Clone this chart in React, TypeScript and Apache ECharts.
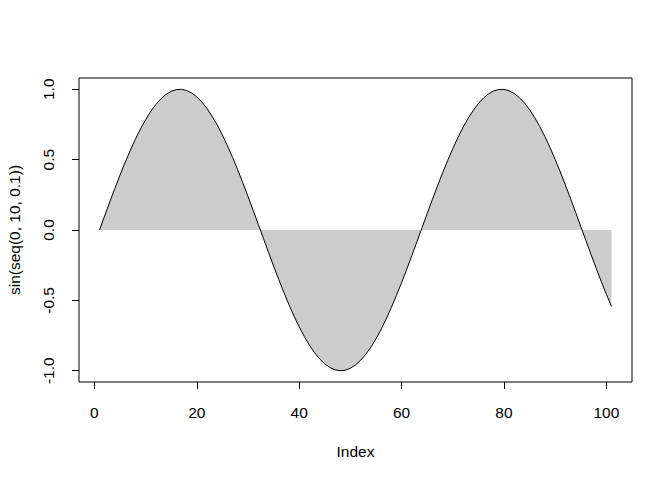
import React, { useEffect, useRef } from "react";
import * as echarts from "echarts";

// sin(seq(0, 10, 0.1)) read at each index 1..101
const values: number[] = [
  0.0, 0.0998, 0.1987, 0.2955, 0.3894, 0.4794, 0.5646, 0.6442, 0.7174, 0.7833,
  0.8415, 0.8912, 0.932, 0.9636, 0.9854, 0.9975, 0.9996, 0.9917, 0.9738, 0.9463,
  0.9093, 0.8632, 0.8085, 0.7457, 0.6755, 0.5985, 0.5155, 0.4274, 0.335, 0.2392,
  0.1411, 0.0416, -0.0584, -0.1577, -0.2555, -0.3508, -0.4425, -0.5298, -0.6119, -0.6878,
  -0.7568, -0.8183, -0.8716, -0.9162, -0.9516, -0.9775, -0.9937, -0.9999, -0.9962, -0.9825,
  -0.9589, -0.9258, -0.8835, -0.8323, -0.7728, -0.7055, -0.6313, -0.5507, -0.4646, -0.3739,
  -0.2794, -0.1822, -0.0831, 0.0168, 0.1165, 0.2151, 0.3115, 0.4048, 0.4941, 0.5784,
  0.657, 0.729, 0.7937, 0.8504, 0.8987, 0.938, 0.9679, 0.9882, 0.9985, 0.9989,
  0.9894, 0.9699, 0.9407, 0.9022, 0.8546, 0.7985, 0.7344, 0.663, 0.5849, 0.501,
  0.4121, 0.3191, 0.2229, 0.1245, 0.0248, -0.0752, -0.1743, -0.2718, -0.3665, -0.4575,
  -0.544,
];
const xTicks: number[] = [0, 20, 40, 60, 80, 100];
const yTicks: number[] = [-1, -0.5, 0, 0.5, 1];
const xTitle = "Index";
const yTitle = "sin(seq(0, 10, 0.1))";

const FONT = "Liberation Sans, Arial, Helvetica, sans-serif";
const FS = 15.5;

export default function App() {
  const ref = useRef<HTMLDivElement>(null);
  useEffect(() => {
    if (!ref.current) return;
    const chart = echarts.init(ref.current, null, { renderer: "svg" });
    const data = values.map((v, i) => [i + 1, v]);
    chart.setOption({
      animation: false,
      backgroundColor: "#ffffff",
      grid: {
        left: 79,
        right: 40,
        top: 78,
        bottom: 98,
        show: true,
        borderColor: "#000000",
        borderWidth: 1,
        backgroundColor: "transparent",
        containLabel: false,
        outerBoundsMode: "none",
      },
      xAxis: {
        type: "value",
        min: -3,
        max: 105,
        name: xTitle,
        nameLocation: "middle",
        nameGap: 61,
        nameTextStyle: { color: "#000", fontSize: FS, fontFamily: FONT },
        splitLine: { show: false },
        axisLine: { show: false, onZero: false },
        axisTick: { show: true, inside: false, length: 7, customValues: xTicks, lineStyle: { color: "#000" } },
        axisLabel: {
          customValues: xTicks,
          margin: 22,
          color: "#000",
          fontSize: FS,
          fontFamily: FONT,
        },
      },
      yAxis: {
        type: "value",
        min: -1.08,
        max: 1.08,
        name: yTitle,
        nameLocation: "middle",
        nameGap: 57,
        nameRotate: 90,
        nameTextStyle: { color: "#000", fontSize: FS, fontFamily: FONT },
        splitLine: { show: false },
        axisLine: { show: false, onZero: false },
        axisTick: { show: true, inside: false, length: 7, customValues: yTicks, lineStyle: { color: "#000" } },
        axisLabel: {
          customValues: yTicks,
          rotate: 90,
          margin: 23,
          color: "#000",
          fontSize: FS,
          fontFamily: FONT,
          formatter: (v: number) => v.toFixed(1),
        },
      },
      series: [
        {
          type: "line",
          data,
          showSymbol: false,
          symbol: "none",
          lineStyle: { color: "#000000", width: 1 },
          areaStyle: { color: "#CCCCCC", opacity: 1, origin: 0 },
          z: 2,
        },
      ],
    });
    return () => chart.dispose();
  }, []);
  return (
    <div
      ref={ref}
      style={{ position: "fixed", left: 0, top: 0, width: 672, height: 480, background: "#fff" }}
    />
  );
}
